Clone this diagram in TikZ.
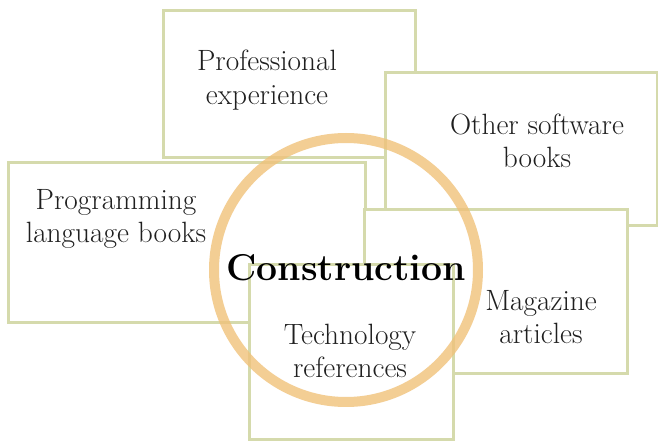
\documentclass[tikz,border=0pt]{standalone}
\usepackage{tikz}

\definecolor{boxline}{HTML}{D5DAAC}
\definecolor{ring}{HTML}{F0C27A}

\tikzset{
    srcbox/.style={draw=boxline, fill=white, line width=2.25pt},
    srctext/.style={align=center, font=\fontsize{22}{25}\selectfont, text=black!88},
}

\begin{document}
\begin{tikzpicture}[x=0.75pt, y=-0.75pt]
        \useasboundingbox (0,0) rectangle (658,442);

        % boxes, back to front
        \filldraw[srcbox] (163,11) rectangle (415,158);
        \filldraw[srcbox] (385,73) rectangle (657,226);
        \filldraw[srcbox] (8,163) rectangle (365,323);
        \filldraw[srcbox] (364,210) rectangle (627,374);
        \filldraw[srcbox] (249,265) rectangle (453,440);

        % the ring
        \draw[ring, line width=7.5pt, opacity=0.8] (346,270) circle (132);

        \node[srctext] (prof) at (267,80) {Professional\\experience};
        \node[srctext] (other) at (537,141) {Other software\\books};
        \node[srctext] (prog) at (116,219) {Programming\\language books};
        \node[srctext] (mag) at (541,317) {Magazine\\articles};
        \node[srctext] (tech) at (350,351) {Technology\\references};
        \node[font=\fontsize{28}{32}\selectfont\bfseries] (constr) at (346,268) {Construction};
    \end{tikzpicture}
\end{document}
